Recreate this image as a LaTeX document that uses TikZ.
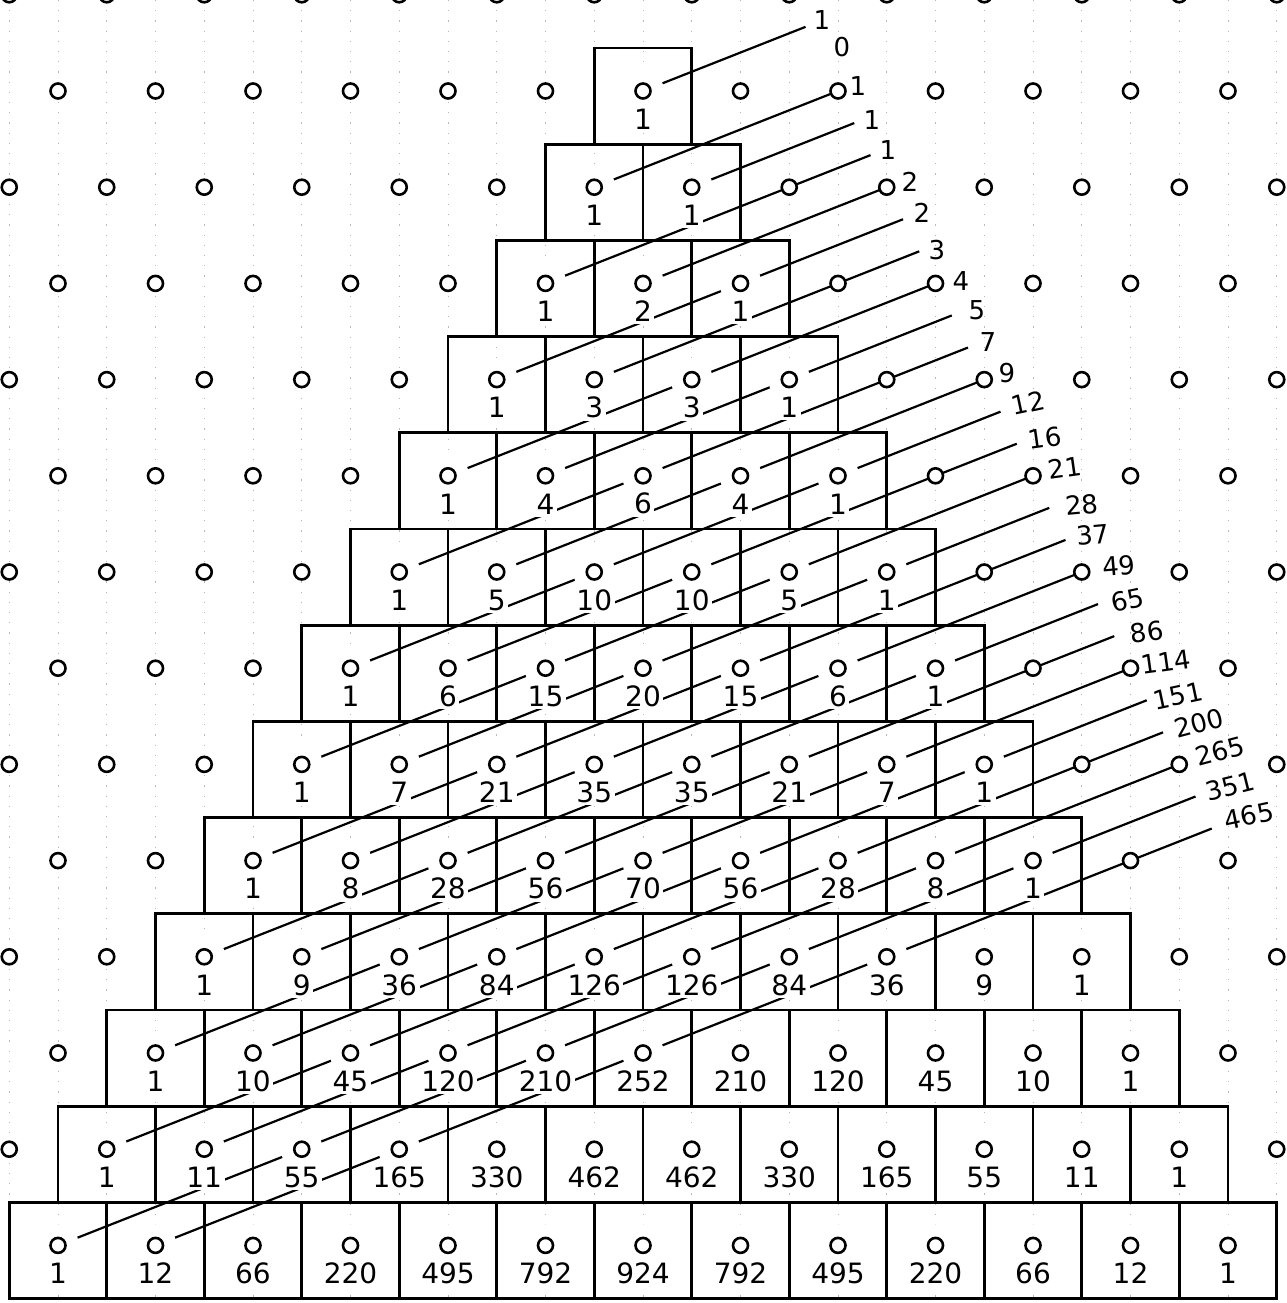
\documentclass[tikz,border=0pt]{standalone}
\usepackage{fontspec}
\setmainfont{DejaVu Sans}
\usetikzlibrary{calc}
\pgfdeclarelayer{bg}
\pgfsetlayers{bg,main}
\tikzset{
  peg/.style={circle, draw=black, fill=white, line width=2.6pt, minimum size=15pt, inner sep=0pt},
  num/.style={fill=white, inner sep=2.5pt, font=\fontsize{28}{28}\selectfont},
  sumlabel/.style={inner sep=0pt, font=\fontsize{26}{26}\selectfont},
  cellbox/.style={draw=black, line width=2.7pt},
  diag/.style={draw=black, line width=2.2pt},
  gridline/.style={draw=black!28, line width=1pt, dash pattern=on 1.2pt off 9pt},
}
\begin{document}
\begin{tikzpicture}[x=1pt,y=-1pt]
\useasboundingbox (0,0) rectangle (1286,1303);
\begin{pgfonlayer}{bg}
  \fill[white] (0,0) rectangle (1286,1303);
  \foreach \i in {-13,...,13}{
    \draw[gridline] ({643+48.75*\i},0) -- ({643+48.75*\i},1303);
  }
\end{pgfonlayer}
\clip (0,0) rectangle (1286,1303);
% lattice pegs outside the triangle
\foreach \r in {-1,...,11}{
  \foreach \j in {-7,...,19}{
    \pgfmathtruncatemacro\ins{and(\j>=0,\j<=\r)}
    \ifnum\ins=0
      \node[peg] (o-\r-\j) at ({643-48.75*\r+97.5*\j},{91+96.2*\r}) {};
    \fi
  }
}
% Pascal triangle cells
\foreach \r/\vals in {0/{1},1/{1,1},2/{1,2,1},3/{1,3,3,1},4/{1,4,6,4,1},
  5/{1,5,10,10,5,1},6/{1,6,15,20,15,6,1},7/{1,7,21,35,35,21,7,1},
  8/{1,8,28,56,70,56,28,8,1},9/{1,9,36,84,126,126,84,36,9,1},
  10/{1,10,45,120,210,252,210,120,45,10,1},
  11/{1,11,55,165,330,462,462,330,165,55,11,1},
  12/{1,12,66,220,495,792,924,792,495,220,66,12,1}}{
  \foreach \v [count=\jc from 0] in \vals {
    \pgfmathsetmacro\xx{643-48.75*\r+97.5*\jc}
    \pgfmathsetmacro\yy{91+96.2*\r}
    \draw[cellbox] (\xx-48.75,\yy-43) rectangle (\xx+48.75,\yy+53.2);
    \fill[white] (\xx,\yy) circle (21);
    \node[peg] (c-\r-\jc) at (\xx,\yy) {};
    \node[num] (n-\r-\jc) at (\xx,\yy+28) {\v};
  }
}
% diagonal sum lines
\begin{pgfonlayer}{bg}
  \foreach \n in {0,2,3,...,25}{
    \pgfmathtruncatemacro\kk{floor(\n/2)}
    \pgfmathtruncatemacro\jj{mod(\n,2)}
    \coordinate (e-\n) at ({805.5+16.25*\n},{91+32.0667*(\n-2)});
    \draw[diag] (c-\kk-\jj.center) -- (e-\n);
  }
\end{pgfonlayer}
% sums
\foreach \n/\t/\lx/\ly/\rot in {0/1/822/20/0, 1/0/842/47/0, 2/1/858/86/0,
  3/1/872/120/0, 4/1/888/150/0, 5/2/910/182/0, 6/2/922/213/0, 7/3/937/250/0,
  8/4/961/281/0, 9/5/977/310/0, 10/7/988/342/0, 11/9/1007/373/0,
  12/12/1028/403/12, 13/16/1045/438/8, 14/21/1065/468/8, 15/28/1082/505/5,
  16/37/1093/535/5, 17/49/1119/566/5, 18/65/1128/600/12, 19/86/1147/632/8,
  20/114/1166/662/8, 21/151/1178/696/12, 22/200/1199/723/15,
  23/265/1220/751/15, 24/351/1230/786/14, 25/465/1249/816/12}{
  \node[sumlabel, rotate=\rot] (s-\n) at (\lx,\ly) {\t};
}
\end{tikzpicture}
\end{document}
